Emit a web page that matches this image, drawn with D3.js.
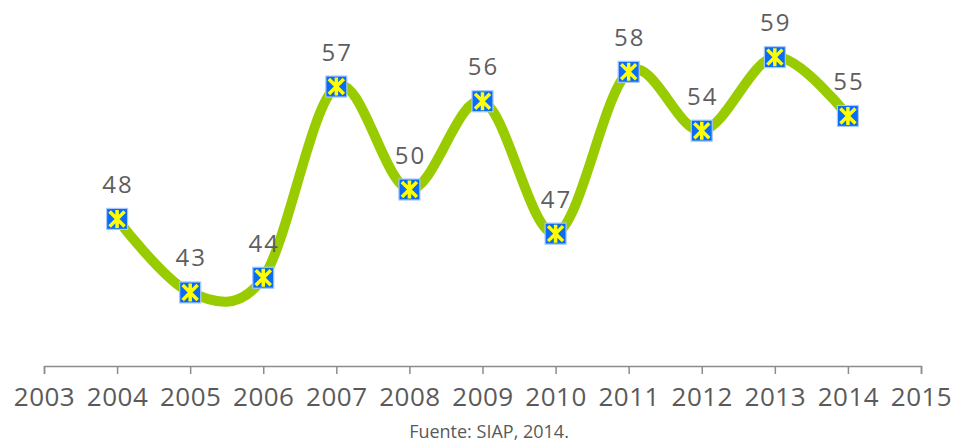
<!DOCTYPE html>
<html><head><meta charset="utf-8">
<script src="https://cdn.jsdelivr.net/npm/d3@7"></script>
<style>body{margin:0;background:#fff}svg{display:block}</style>
</head><body>
<svg id="c" width="956" height="446"></svg>
<script>
const years = [2004,2005,2006,2007,2008,2009,2010,2011,2012,2013,2014];
const values = [48,43,44,57,50,56,47,58,54,59,55];
const tickYears = [2003,2004,2005,2006,2007,2008,2009,2010,2011,2012,2013,2014,2015];
const source = "Fuente: SIAP, 2014.";

const svg = d3.select("#c");
const x = d3.scaleLinear().domain([2003,2015]).range([44,921]);
const y = d3.scaleLinear().domain([38,62]).range([366,13]);

const axis = d3.axisBottom(x).tickValues(tickYears).tickFormat(d3.format("d")).tickSizeOuter(0).tickSize(8).tickPadding(14);
const gx = svg.append("g").attr("transform","translate(0,366)").call(axis);
gx.select(".domain").attr("stroke","#8c8c8c").attr("stroke-width",1.5);
gx.selectAll(".tick line").attr("stroke","#8c8c8c").attr("stroke-width",1.5);
gx.selectAll(".tick text").attr("fill","#5a5a5a").attr("font-family","'Open Sans'").attr("font-size",26).attr("letter-spacing",0.5);

const line = d3.line().x((d,i)=>x(years[i])).y(d=>y(d)).curve(d3.curveCatmullRom.alpha(0));
svg.append("path").attr("d",line(values)).attr("fill","none").attr("stroke","#99cc00").attr("stroke-width",10);

const m = svg.selectAll(".mk").data(values).enter().append("g")
  .attr("transform",(d,i)=>`translate(${x(years[i])},${y(d)})`);
m.append("rect").attr("x",-10.5).attr("y",-10.5).attr("width",21).attr("height",21).attr("fill","#0a6cf5").attr("stroke","#a8c8ff").attr("stroke-width",1.2);
m.append("path").attr("d","M-7.5,-7.5L7.5,7.5M7.5,-7.5L-7.5,7.5M0,-9L0,9").attr("stroke","#ffff00").attr("stroke-width",3.5);

svg.selectAll(".lbl").data(values).enter().append("text")
  .attr("x",(d,i)=>x(years[i])+1).attr("y",d=>y(d)-26)
  .attr("text-anchor","middle").attr("fill","#5e5e5e")
  .attr("font-family","'Open Sans'").attr("font-size",24).attr("letter-spacing",2).text(d=>d);

svg.append("text").attr("x",489).attr("y",438).attr("text-anchor","middle")
  .attr("fill","#595959").attr("font-family","'Open Sans'").attr("font-size",18).text(source);
</script>
</body></html>
